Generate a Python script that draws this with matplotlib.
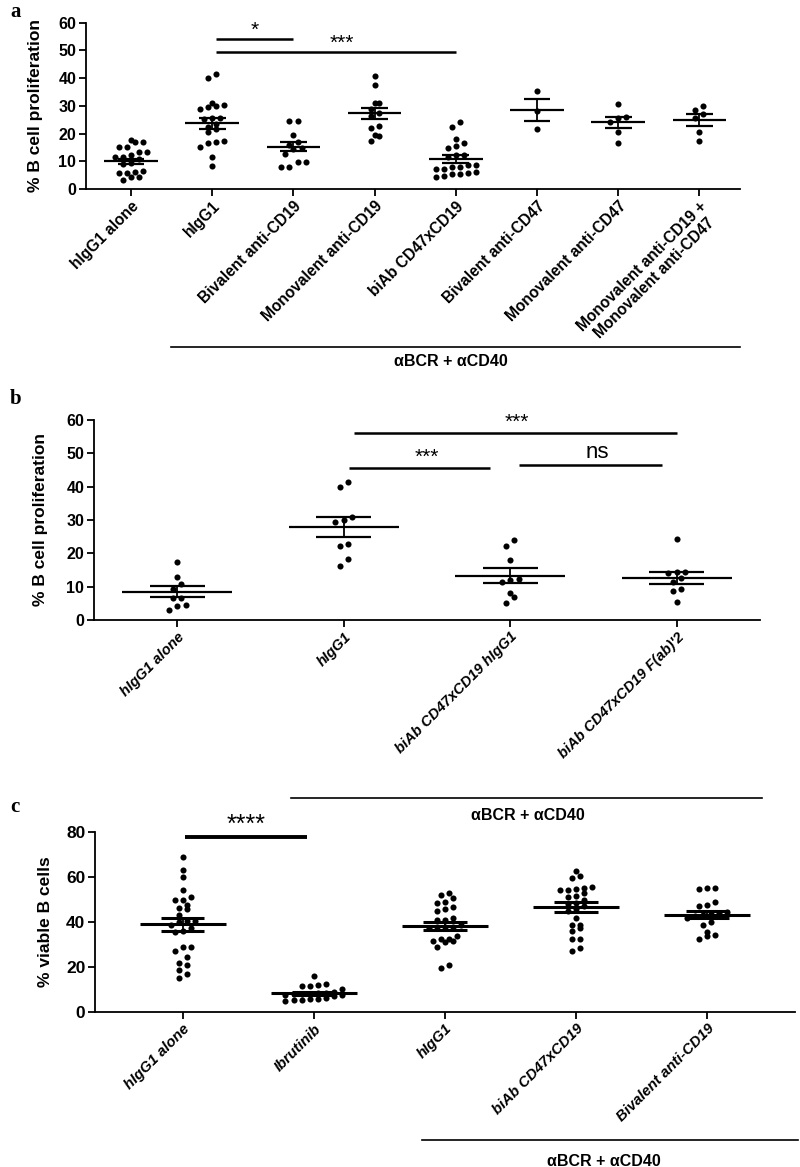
import numpy as np
import matplotlib
matplotlib.use("Agg")
import matplotlib.pyplot as plt
from matplotlib.lines import Line2D

plt.rcParams["font.family"] = ["Liberation Sans", "DejaVu Sans"]

W, H = 800, 1167

# ---- panel a: % B cell proliferation ----
A_LABELS = ["hIgG1 alone", "hIgG1", "Bivalent anti-CD19", "Monovalent anti-CD19",
            "biAb CD47xCD19", "Bivalent anti-CD47", "Monovalent anti-CD47",
            "Monovalent anti-CD19 +\nMonovalent anti-CD47"]
A_VALUES = [
    [17.7, 16.8, 16.8, 15.3, 15.3, 13.2, 13.2, 11.6, 12.2, 11.4, 10.7, 9.5, 9.0,
     6.0, 5.8, 6.5, 5.8, 4.4, 4.4, 3.2],
    [41.4, 40.0, 30.9, 30.0, 28.8, 29.5, 30.3, 25.7, 25.6, 25.2, 23.4, 22.5, 20.4,
     21.5, 16.7, 15.2, 17.2, 17.0, 11.7, 8.2],
    [24.6, 24.6, 19.5, 17.0, 15.7, 14.8, 14.6, 12.8, 9.6, 9.6, 7.8, 8.0],
    [40.9, 37.4, 30.9, 31.2, 29.0, 27.5, 26.5, 22.6, 22.0, 19.2, 19.5, 17.2],
    [24.0, 22.4, 18.2, 16.5, 15.5, 14.8, 12.3, 12.3, 11.4, 8.7, 8.1, 7.1, 7.1,
     8.1, 8.7, 5.7, 5.3, 4.4, 4.8, 5.3, 6.0],
    [35.2, 28.2, 21.5],
    [30.6, 26.1, 25.5, 24.3, 20.4, 16.7],
    [29.8, 28.5, 27.0, 25.5, 20.7, 17.3],
]
A_MEAN = [10.0, 23.7, 15.2, 27.4, 10.8, 28.4, 24.0, 24.9]
A_SEM = [0.9, 1.9, 1.6, 2.0, 1.4, 3.9, 2.0, 2.0]

# ---- panel b ----
B_LABELS = ["hIgG1 alone", "hIgG1", "biAb CD47xCD19 hIgG1", "biAb CD47xCD19 F(ab)'2"]
B_VALUES = [
    [17.5, 12.8, 10.8, 9.2, 6.7, 6.5, 4.5, 4.2, 3.0],
    [41.3, 40.0, 30.8, 29.5, 30.0, 22.8, 22.3, 18.2, 16.2],
    [23.9, 22.3, 18.0, 12.2, 11.5, 12.0, 8.0, 6.8, 5.2],
    [24.3, 14.0, 14.5, 14.3, 12.5, 11.5, 9.3, 8.8, 5.3],
]
B_MEAN = [8.5, 28.0, 13.3, 12.7]
B_SEM = [1.6, 3.0, 2.2, 1.8]

# ---- panel c: % viable B cells ----
C_LABELS = ["hIgG1 alone", "Ibrutinib", "hIgG1", "biAb CD47xCD19", "Bivalent anti-CD19"]
C_VALUES = [
    [68.8, 63.3, 59.9, 54.1, 51.3, 49.9, 49.6, 47.6, 46.4, 45.6, 42.9, 40.5, 40.5,
     40.0, 38.5, 37.3, 36.1, 35.4, 28.8, 28.8, 26.9, 24.6, 22.0, 21.0, 18.5, 16.7, 15.1],
    [15.8, 12.2, 11.4, 10.2, 11.4, 12.3, 8.1, 7.6, 7.4, 8.1, 8.3, 8.5, 8.7, 6.9,
     5.9, 5.2, 4.7, 5.2, 5.8, 6.4, 7.8],
    [52.8, 52.1, 50.6, 49.1, 48.4, 46.6, 45.7, 44.7, 41.6, 41.0, 41.0, 38.5, 38.0,
     37.7, 37.7, 37.5, 33.6, 32.4, 32.4, 31.7, 31.4, 30.9, 28.8, 21.0, 19.5],
    [62.7, 60.5, 59.5, 55.5, 55.0, 54.6, 54.3, 54.3, 53.1, 51.6, 51.0, 49.9, 48.4,
     48.1, 47.0, 46.0, 44.7, 41.9, 38.8, 38.8, 37.3, 35.8, 32.5, 32.5, 28.3, 27.2],
    [55.3, 54.7, 55.3, 49.1, 47.6, 47.2, 44.5, 44.0, 43.5, 43.0, 42.5, 41.8, 40.2,
     38.8, 35.4, 34.3, 33.6, 32.4],
]
C_MEAN = [38.9, 8.3, 38.3, 46.6, 43.3]
C_SEM = [2.9, 0.8, 1.8, 2.1, 1.7]


def spread(vals, bin_h, step):
    # GraphPad-like scatter: close values share a row, centred on the group
    vals = np.asarray(vals)
    order = np.argsort(vals)
    rows, cur, start = [], [], None
    for i in order:
        if start is None or vals[i] - start > bin_h:
            if cur:
                rows.append(cur)
            cur, start = [i], vals[i]
        else:
            cur.append(i)
    rows.append(cur)
    off = np.zeros(len(vals))
    for r in rows:
        off[r] = (np.arange(len(r)) - (len(r) - 1) / 2) * step
    return off


def rect(x0, x1, y0, y1):
    return [x0 / W, 1 - y1 / H, (x1 - x0) / W, (y1 - y0) / H]


def panel(fig, r, labels, values, means, sems, xlim, ylim, yticks, ylabel,
          bin_h, step, italic, mean_lw, ytick_fs, xtick_fs, lab_x):
    ax = fig.add_axes(r)
    xs = np.arange(len(labels))
    for x, v in zip(xs, values):
        ax.plot(x + spread(v, bin_h, step), v, "o", color="black", ms=4.4,
                mew=0, clip_on=False, zorder=3)
    ax.hlines(means, xs - 0.33, xs + 0.33, color="black", lw=mean_lw, zorder=4)
    lo = np.array(means) - np.array(sems)
    hi = np.array(means) + np.array(sems)
    ax.vlines(xs, lo, hi, color="black", lw=1.3, zorder=4)
    ax.hlines(lo, xs - 0.165, xs + 0.165, color="black", lw=mean_lw, zorder=4)
    ax.hlines(hi, xs - 0.165, xs + 0.165, color="black", lw=mean_lw, zorder=4)
    ax.set_xlim(*xlim)
    ax.set_ylim(*ylim)
    ax.set_yticks(yticks)
    ax.set_xticks(xs)
    ax.set_xticklabels(labels, rotation=45, ha="right", va="top",
                       rotation_mode="anchor", fontweight="bold",
                       fontstyle="italic" if italic else "normal", fontsize=xtick_fs,
                       multialignment="center")
    for t in ax.get_yticklabels():
        t.set_fontweight("bold")
        t.set_fontsize(ytick_fs)
    ax.set_ylabel(ylabel, fontsize=12.5, fontweight="bold")
    ax.yaxis.set_label_coords(lab_x, 0.5)
    ax.spines[["top", "right"]].set_visible(False)
    ax.spines[["left", "bottom"]].set_linewidth(1.3)
    ax.tick_params(width=1.3, length=5, pad=2)
    return ax


def sig(ax, x1, x2, y, text, ty, tx=None, lw=1.8, fs=15):
    ax.plot([x1, x2], [y, y], color="black", lw=lw, clip_on=False, solid_capstyle="butt")
    ax.text((x1 + x2) / 2 if tx is None else tx, ty, text, ha="center", va="center",
            fontsize=fs, clip_on=False)


def bracket(fig, x0, x1, y, tpos):
    fig.add_artist(Line2D([x0 / W, x1 / W], [1 - y / H, 1 - y / H], color="black", lw=1.2))
    fig.text(tpos[0] / W, 1 - tpos[1] / H, "\u03b1BCR + \u03b1CD40", ha="center",
             va="center", fontsize=11.5, fontweight="bold")


fig = plt.figure(figsize=(8, 11.67), dpi=100)

# a
axa = panel(fig, rect(86, 740, 22.7, 189), A_LABELS, A_VALUES, A_MEAN, A_SEM,
            (-0.555, 7.5), (0, 60), range(0, 61, 10), "% B cell proliferation",
            2.0, 0.1, False, 1.6, 11.5, 11.2, -0.066)
sig(axa, 1.05, 2.0, 54.0, "*", 57.2)
sig(axa, 1.05, 4.0, 49.5, "***", 52.6, tx=2.6)
bracket(fig, 171, 740, 347, (451, 362))

# b
axb = panel(fig, rect(94, 760, 420, 620), B_LABELS, B_VALUES, B_MEAN, B_SEM,
            (-0.5, 3.5), (0, 60), range(0, 61, 10), "% B cell proliferation",
            2.4, 0.05, True, 1.6, 11.5, 10.5, -0.069)
sig(axb, 1.06, 3.0, 56.0, "***", 59.3, tx=2.04)
sig(axb, 1.03, 1.88, 45.7, "***", 48.8, tx=1.5)
sig(axb, 2.05, 2.91, 46.5, "ns", 50.4, tx=2.52, fs=16)
bracket(fig, 291, 762, 798, (528, 816))

# c
axc = panel(fig, rect(95, 795, 832, 1012), C_LABELS, C_VALUES, C_MEAN, C_SEM,
            (-0.67, 4.67), (0, 80), range(0, 81, 20), "% viable B cells",
            2.8, 0.062, True, 2.2, 12.5, 10.7, -0.06)
sig(axc, 0.02, 0.95, 77.8, "****", 83.0, lw=2.8, fs=18)
bracket(fig, 422, 798, 1140, (604, 1161))

for letter, y in (("a", 12), ("b", 399), ("c", 807)):
    fig.text(10 / W, 1 - y / H, letter, fontsize=15, fontweight="bold",
             family="Liberation Serif", ha="left", va="center")

fig.savefig("out.png", dpi=100)
